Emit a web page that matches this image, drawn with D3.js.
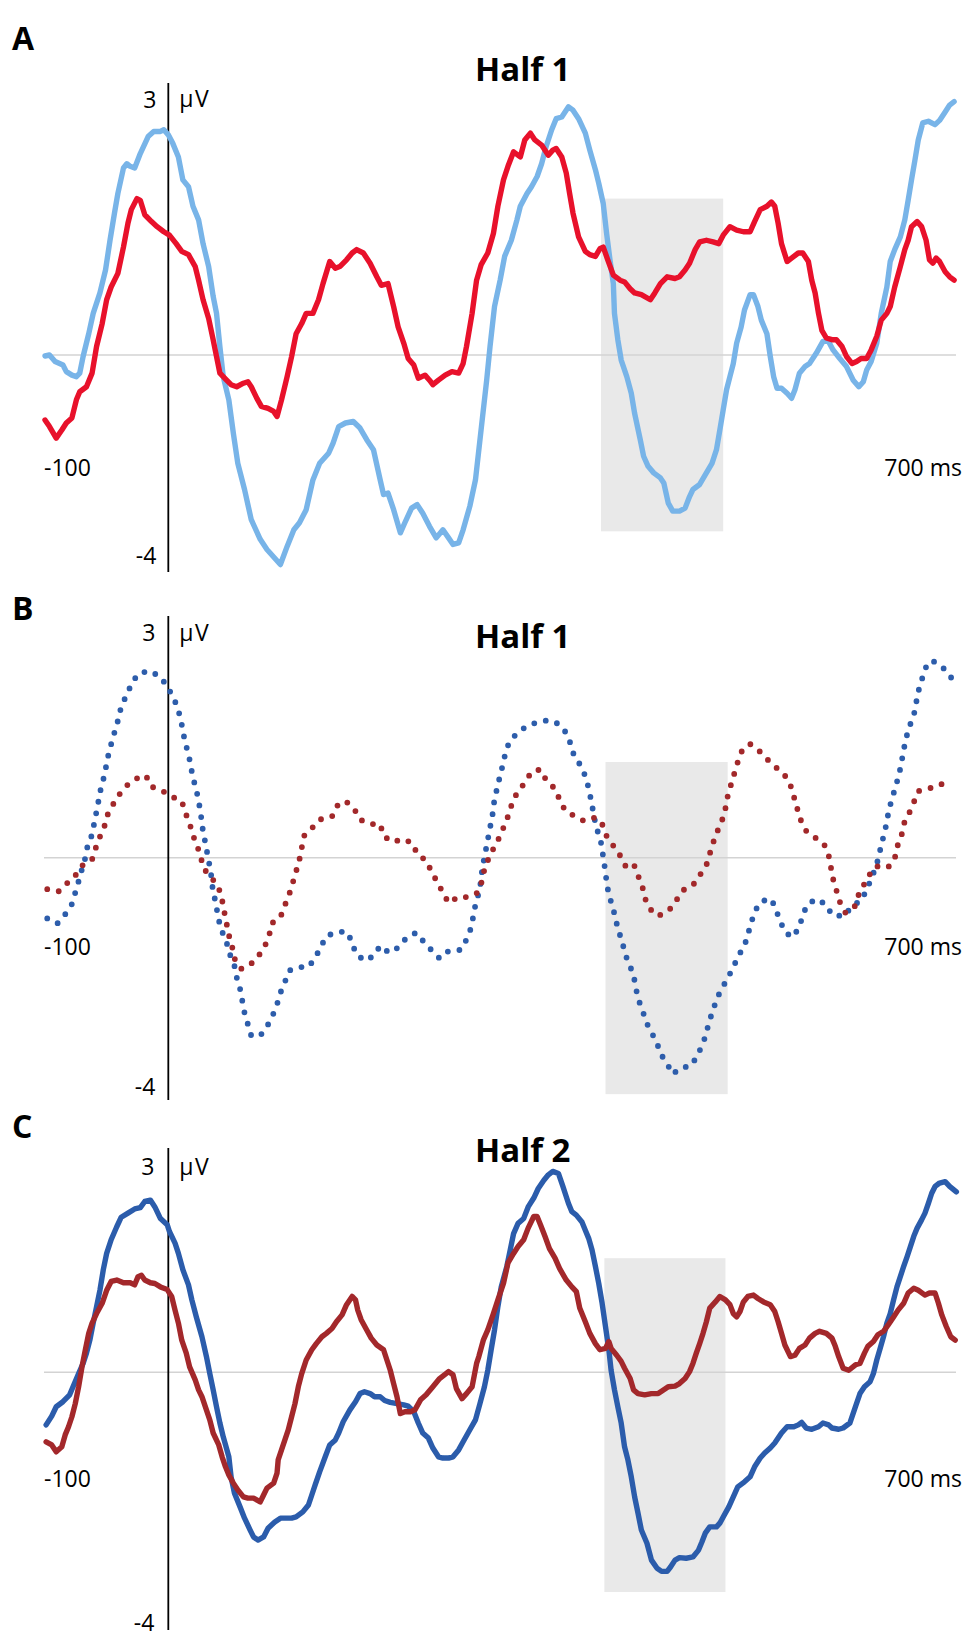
<!DOCTYPE html>
<html>
<head>
<meta charset="utf-8">
<script src="https://cdn.jsdelivr.net/npm/d3@7"></script>
<style>
  body { margin: 0; background: #fff; }
  svg { display: block; }
  text { font-family: "Open Sans", "DejaVu Sans", sans-serif; fill: #000; }
</style>
</head>
<body>
<svg id="chart" width="975" height="1642"></svg>
<script>
// ERP waveforms, [time ms, amplitude uV]

// panel A, half 1
var aLight = [[-110,-0.02],[-106,0],[-101,-0.13],[-97,-0.17],[-94,-0.20],[-91,-0.33],[-86,-0.40],[-82,-0.43],[-79,-0.36],[-76,-0.03],[-71,0.25],[-67,0.49],[-61,0.73],[-56,1.00],[-52,1.35],[-48,1.67],[-45,1.90],[-40,2.20],[-37,2.25],[-34,2.22],[-30,2.20],[-25,2.37],[-18,2.57],[-13,2.63],[-7,2.63],[-4,2.65],[0,2.59],[4,2.49],[9,2.33],[13,2.06],[18,1.98],[22,1.75],[27,1.59],[31,1.31],[36,1.04],[40,0.69],[43,0.49],[46,0.10],[49,-0.43],[54,-0.89],[58,-1.55],[62,-2.15],[68,-2.67],[74,-3.27],[82,-3.66],[88,-3.86],[100,-4.16],[106,-3.80],[112,-3.47],[117,-3.33],[123,-3.07],[129,-2.48],[135,-2.15],[143,-1.95],[147,-1.75],[152,-1.42],[158,-1.35],[165,-1.32],[171,-1.45],[177,-1.68],[183,-1.88],[189,-2.48],[192,-2.77],[196,-2.74],[201,-3.07],[207,-3.53],[211,-3.33],[217,-3.04],[222,-2.97],[227,-3.14],[233,-3.40],[239,-3.63],[245,-3.47],[250,-3.63],[254,-3.76],[259,-3.73],[263,-3.47],[269,-3.00],[274,-2.48],[279,-1.49],[284,-0.50],[287,0.10],[291,0.57],[296,0.88],[300,1.16],[306,1.35],[311,1.59],[314,1.75],[320,1.90],[324,1.98],[329,2.10],[333,2.25],[337,2.45],[342,2.65],[346,2.78],[351,2.80],[357,2.92],[361,2.88],[366,2.78],[372,2.61],[376,2.41],[381,2.18],[384,2.02],[388,1.78],[391,1.43],[394,1.12],[397,0.84],[398,0.49],[401,0.18],[404,-0.10],[409,-0.43],[413,-0.76],[416,-1.16],[421,-1.68],[424,-2.01],[428,-2.21],[433,-2.34],[439,-2.44],[442,-2.54],[446,-2.94],[450,-3.10],[456,-3.10],[461,-3.04],[465,-2.81],[468,-2.67],[474,-2.57],[480,-2.34],[485,-2.15],[489,-1.88],[492,-1.49],[495,-1.09],[498,-0.69],[501,-0.43],[504,-0.17],[507,0.14],[511,0.33],[514,0.53],[519,0.71],[522,0.71],[526,0.57],[529,0.41],[534,0.25],[537,-0.03],[540,-0.43],[543,-0.66],[547,-0.66],[552,-0.76],[556,-0.86],[559,-0.69],[563,-0.36],[568,-0.23],[572,-0.17],[578,0.02],[584,0.16],[589,0.16],[593,0.06],[599,-0.07],[605,-0.23],[611,-0.50],[616,-0.63],[620,-0.53],[623,-0.30],[627,-0.13],[632,0.14],[636,0.49],[641,0.80],[644,1.10],[648,1.24],[653,1.39],[657,1.59],[660,1.82],[663,2.06],[666,2.29],[669,2.53],[673,2.73],[678,2.75],[684,2.71],[688,2.76],[693,2.86],[697,2.94],[701,2.98]];

var aRed = [[-110,-1.29],[-106,-1.42],[-100,-1.65],[-95,-1.49],[-91,-1.35],[-86,-1.25],[-82,-0.89],[-79,-0.73],[-73,-0.63],[-68,-0.36],[-64,0.10],[-59,0.37],[-55,0.65],[-51,0.80],[-45,0.96],[-40,1.27],[-36,1.55],[-33,1.71],[-28,1.84],[-25,1.82],[-21,1.65],[-15,1.57],[-10,1.51],[-4,1.45],[1,1.41],[7,1.31],[12,1.22],[18,1.18],[24,1.04],[27,0.88],[31,0.65],[36,0.43],[40,0.18],[43,-0.03],[46,-0.36],[52,-0.50],[56,-0.59],[61,-0.63],[67,-0.56],[71,-0.53],[74,-0.63],[79,-0.86],[83,-1.02],[89,-1.06],[94,-1.12],[97,-1.22],[101,-0.89],[106,-0.43],[110,-0.03],[114,0.25],[119,0.37],[123,0.49],[129,0.49],[134,0.65],[138,0.84],[144,1.10],[149,1.02],[153,1.04],[159,1.12],[164,1.20],[168,1.24],[174,1.20],[180,1.08],[186,0.92],[190,0.82],[196,0.84],[201,0.57],[205,0.33],[210,0.14],[214,-0.07],[219,-0.20],[223,-0.46],[229,-0.40],[233,-0.50],[236,-0.59],[241,-0.50],[247,-0.40],[253,-0.33],[259,-0.36],[263,-0.17],[266,0.10],[271,0.49],[275,0.88],[279,1.06],[285,1.20],[290,1.43],[294,1.75],[299,2.06],[303,2.22],[308,2.39],[314,2.33],[318,2.53],[323,2.61],[327,2.53],[333,2.47],[339,2.35],[343,2.41],[346,2.43],[351,2.33],[355,2.14],[358,1.90],[361,1.67],[366,1.39],[372,1.22],[376,1.18],[381,1.16],[385,1.25],[388,1.27],[392,1.12],[397,0.94],[403,0.88],[407,0.86],[412,0.78],[416,0.73],[422,0.71],[430,0.65],[434,0.73],[439,0.84],[445,0.92],[452,0.90],[456,0.92],[461,1.00],[465,1.08],[470,1.24],[474,1.33],[480,1.35],[486,1.33],[491,1.31],[495,1.41],[501,1.51],[507,1.47],[513,1.45],[519,1.45],[523,1.57],[528,1.71],[534,1.75],[538,1.80],[541,1.75],[544,1.55],[547,1.31],[552,1.10],[556,1.14],[562,1.20],[566,1.20],[571,1.10],[574,0.88],[577,0.73],[580,0.49],[583,0.29],[587,0.20],[592,0.18],[596,0.18],[601,0.10],[605,-0.03],[610,-0.17],[614,-0.13],[618,-0.07],[623,-0.07],[627,0.06],[632,0.22],[636,0.41],[641,0.49],[644,0.57],[648,0.80],[653,1.04],[657,1.24],[660,1.35],[663,1.51],[668,1.57],[672,1.51],[676,1.35],[679,1.12],[682,1.08],[685,1.14],[688,1.10],[693,0.98],[697,0.92],[701,0.88]];

// panel B, half 1 (dotted)
var bBlue = [[-108,-1.06],[-99,-1.15],[-92,-0.99],[-86,-0.81],[-83,-0.61],[-80,-0.41],[-77,-0.20],[-74,0],[-72,0.16],[-68,0.31],[-66,0.47],[-64,0.62],[-62,0.78],[-60,0.94],[-57,1.10],[-55,1.26],[-53,1.41],[-50,1.57],[-47,1.73],[-44,1.88],[-42,2.03],[-37,2.18],[-33,2.32],[-27,2.46],[-17,2.50],[-7,2.42],[-1,2.29],[4,2.16],[8,2.02],[11,1.86],[13,1.70],[15,1.54],[18,1.39],[20,1.23],[22,1.07],[25,0.91],[27,0.76],[29,0.59],[30,0.44],[32,0.28],[34,0.12],[36,-0.05],[38,-0.26],[39,-0.47],[41,-0.67],[43,-0.87],[45,-1.09],[48,-1.29],[52,-1.48],[55,-1.69],[59,-1.89],[61,-2.09],[64,-2.29],[66,-2.50],[68,-2.71],[71,-2.91],[74,-3.11],[82,-3.11],[88,-2.95],[93,-2.76],[97,-2.56],[100,-2.36],[104,-2.17],[108,-1.97],[116,-1.91],[125,-1.91],[131,-1.75],[136,-1.56],[141,-1.37],[150,-1.30],[159,-1.29],[164,-1.47],[167,-1.67],[175,-1.80],[183,-1.72],[189,-1.54],[197,-1.66],[205,-1.57],[212,-1.41],[221,-1.31],[228,-1.47],[235,-1.62],[242,-1.76],[250,-1.63],[261,-1.61],[266,-1.43],[270,-1.23],[272,-1.03],[274,-0.82],[277,-0.61],[279,-0.40],[280,-0.20],[282,0.01],[284,0.16],[286,0.32],[288,0.48],[290,0.64],[291,0.80],[294,0.96],[296,1.11],[299,1.27],[301,1.43],[305,1.57],[313,1.69],[321,1.77],[331,1.82],[340,1.84],[348,1.79],[355,1.67],[359,1.52],[362,1.36],[368,1.23],[372,1.09],[375,0.93],[377,0.78],[379,0.62],[381,0.46],[384,0.30],[387,0.15],[388,-0.02],[390,-0.23],[391,-0.44],[393,-0.64],[396,-0.84],[399,-1.05],[401,-1.25],[405,-1.46],[407,-1.66],[411,-1.85],[415,-2.05],[417,-2.26],[419,-2.46],[423,-2.66],[426,-2.86],[431,-3.05],[436,-3.24],[439,-3.42],[445,-3.60],[450,-3.78],[457,-3.67],[466,-3.64],[472,-3.46],[476,-3.28],[480,-3.08],[482,-2.88],[486,-2.67],[489,-2.47],[494,-2.28],[499,-2.10],[504,-1.92],[508,-1.73],[514,-1.54],[517,-1.34],[520,-1.14],[523,-0.94],[529,-0.76],[538,-0.72],[542,-0.91],[546,-1.11],[550,-1.30],[557,-1.39],[563,-1.21],[566,-1.00],[570,-0.82],[578,-0.72],[587,-0.82],[592,-1.00],[603,-1.02],[610,-0.84],[618,-0.75],[623,-0.56],[627,-0.37],[631,-0.17],[634,0.02],[636,0.18],[639,0.33],[641,0.49],[643,0.65],[646,0.81],[649,0.96],[652,1.12],[654,1.27],[656,1.44],[658,1.59],[661,1.75],[665,1.90],[667,2.06],[669,2.22],[672,2.37],[675,2.53],[681,2.64],[690,2.56],[697,2.44],[703,2.30]];

var bRed = [[-108,-0.55],[-98,-0.59],[-90,-0.44],[-82,-0.29],[-76,-0.12],[-68,-0.03],[-65,0.12],[-61,0.28],[-57,0.42],[-54,0.58],[-49,0.72],[-43,0.86],[-36,0.98],[-27,1.07],[-20,1.10],[-15,0.95],[-6,0.90],[4,0.81],[12,0.76],[15,0.61],[19,0.46],[22,0.30],[26,0.15],[29,0],[32,-0.20],[39,-0.36],[45,-0.53],[48,-0.74],[50,-0.95],[52,-1.15],[54,-1.35],[57,-1.56],[59,-1.76],[65,-1.94],[73,-1.87],[80,-1.73],[86,-1.55],[90,-1.36],[92,-1.15],[100,-1.04],[104,-0.83],[108,-0.63],[111,-0.44],[114,-0.24],[117,-0.03],[119,0.13],[121,0.29],[129,0.41],[135,0.51],[146,0.55],[151,0.70],[158,0.76],[166,0.65],[171,0.51],[180,0.45],[189,0.45],[192,0.29],[200,0.21],[210,0.25],[218,0.19],[222,0.05],[230,-0.05],[235,-0.25],[240,-0.43],[245,-0.61],[250,-0.79],[259,-0.68],[267,-0.69],[276,-0.61],[280,-0.40],[282,-0.20],[286,0],[291,0.15],[296,0.29],[300,0.44],[304,0.59],[307,0.75],[312,0.89],[318,1.00],[324,1.15],[332,1.18],[337,1.04],[345,0.92],[349,0.78],[354,0.63],[362,0.56],[371,0.49],[381,0.54],[387,0.45],[391,0.29],[397,0.16],[403,0.03],[408,-0.15],[415,-0.10],[419,-0.31],[423,-0.51],[425,-0.70],[430,-0.90],[437,-1.02],[447,-0.91],[453,-0.75],[459,-0.57],[468,-0.48],[474,-0.31],[480,-0.13],[483,0.05],[486,0.20],[490,0.36],[494,0.50],[497,0.66],[499,0.82],[502,0.98],[505,1.13],[508,1.28],[512,1.44],[519,1.52],[527,1.43],[534,1.32],[542,1.21],[550,1.10],[555,0.97],[558,0.82],[561,0.66],[564,0.51],[569,0.36],[577,0.27],[585,0.18],[589,0.04],[591,-0.16],[593,-0.37],[596,-0.57],[599,-0.77],[604,-0.96],[612,-0.87],[615,-0.68],[620,-0.49],[625,-0.31],[631,-0.15],[642,-0.17],[648,-0.02],[650,0.14],[654,0.29],[656,0.45],[661,0.60],[665,0.74],[669,0.89],[676,0.92],[686,0.95],[695,1.03]];

// panel C, half 2
var cBlue = [[-109,-0.84],[-104,-0.70],[-100,-0.55],[-94,-0.47],[-88,-0.36],[-85,-0.23],[-80,-0.02],[-76,0.13],[-73,0.28],[-70,0.47],[-67,0.72],[-64,0.96],[-61,1.20],[-58,1.50],[-55,1.74],[-51,1.94],[-46,2.13],[-42,2.27],[-36,2.33],[-30,2.39],[-25,2.41],[-21,2.50],[-16,2.52],[-12,2.42],[-7,2.25],[-1,2.16],[1,2.06],[6,1.89],[9,1.74],[13,1.50],[18,1.28],[21,1.06],[25,0.81],[30,0.52],[34,0.23],[37,-0.02],[40,-0.28],[43,-0.55],[46,-0.81],[49,-1.03],[54,-1.35],[56,-1.67],[59,-1.93],[64,-2.15],[68,-2.33],[73,-2.52],[76,-2.63],[80,-2.68],[85,-2.63],[89,-2.49],[95,-2.39],[100,-2.33],[106,-2.33],[110,-2.33],[114,-2.31],[120,-2.23],[125,-2.12],[128,-1.96],[131,-1.80],[135,-1.59],[140,-1.35],[144,-1.16],[149,-1.08],[152,-0.97],[156,-0.79],[162,-0.60],[167,-0.47],[171,-0.34],[175,-0.31],[180,-0.34],[184,-0.39],[189,-0.39],[193,-0.45],[198,-0.48],[204,-0.50],[210,-0.52],[214,-0.54],[219,-0.63],[223,-0.81],[227,-0.97],[232,-1.05],[236,-1.21],[241,-1.35],[245,-1.37],[250,-1.37],[254,-1.35],[259,-1.24],[263,-1.11],[268,-0.95],[274,-0.76],[278,-0.50],[282,-0.23],[285,0.03],[288,0.33],[291,0.62],[294,0.96],[297,1.25],[302,1.55],[305,1.79],[308,2.03],[312,2.18],[317,2.25],[321,2.42],[326,2.55],[330,2.69],[335,2.81],[339,2.89],[343,2.94],[348,2.91],[352,2.72],[357,2.47],[360,2.35],[364,2.30],[369,2.20],[372,2.08],[375,1.96],[378,1.79],[381,1.55],[384,1.30],[387,1.01],[390,0.67],[393,0.33],[395,0.03],[398,-0.28],[401,-0.55],[404,-0.81],[407,-1.19],[410,-1.40],[413,-1.67],[416,-1.99],[419,-2.25],[422,-2.52],[427,-2.73],[431,-3.00],[436,-3.13],[440,-3.18],[445,-3.18],[448,-3.11],[452,-3.00],[456,-2.96],[462,-2.97],[468,-2.95],[473,-2.84],[476,-2.71],[479,-2.57],[483,-2.47],[489,-2.47],[492,-2.41],[495,-2.31],[500,-2.15],[504,-1.99],[508,-1.83],[514,-1.75],[519,-1.67],[523,-1.51],[528,-1.37],[532,-1.29],[537,-1.21],[541,-1.13],[547,-0.97],[552,-0.87],[558,-0.87],[562,-0.84],[565,-0.80],[569,-0.89],[574,-0.91],[580,-0.87],[584,-0.81],[589,-0.84],[592,-0.89],[598,-0.91],[602,-0.89],[608,-0.81],[613,-0.55],[617,-0.34],[621,-0.23],[626,-0.15],[629,-0.02],[632,0.18],[635,0.35],[638,0.52],[641,0.72],[644,0.86],[647,1.06],[650,1.25],[653,1.40],[656,1.55],[659,1.69],[662,1.84],[665,1.99],[668,2.11],[672,2.23],[675,2.33],[678,2.47],[681,2.62],[684,2.72],[688,2.77],[693,2.79],[697,2.72],[703,2.64]];

var cRed = [[-109,-1.11],[-104,-1.16],[-100,-1.27],[-95,-1.19],[-92,-1.00],[-89,-0.87],[-86,-0.71],[-83,-0.50],[-80,-0.23],[-77,0.08],[-74,0.33],[-71,0.57],[-68,0.72],[-64,0.86],[-59,1.01],[-55,1.20],[-51,1.33],[-46,1.35],[-40,1.31],[-34,1.31],[-30,1.28],[-27,1.40],[-24,1.42],[-21,1.35],[-16,1.31],[-12,1.30],[-7,1.25],[-1,1.21],[3,1.11],[6,0.91],[9,0.72],[12,0.47],[16,0.28],[19,0.08],[24,-0.12],[27,-0.28],[30,-0.39],[33,-0.55],[37,-0.76],[40,-0.97],[45,-1.16],[48,-1.35],[51,-1.51],[54,-1.64],[58,-1.77],[62,-1.88],[67,-1.99],[71,-2.01],[76,-2.01],[82,-2.07],[85,-1.96],[88,-1.85],[94,-1.77],[97,-1.61],[98,-1.40],[101,-1.24],[104,-1.08],[107,-0.92],[110,-0.71],[113,-0.50],[116,-0.23],[119,-0.02],[123,0.18],[128,0.33],[132,0.42],[137,0.52],[141,0.57],[146,0.64],[150,0.74],[155,0.84],[159,0.99],[164,1.11],[167,1.06],[169,0.91],[172,0.77],[177,0.62],[181,0.50],[186,0.40],[192,0.33],[195,0.18],[198,0.03],[201,-0.18],[204,-0.39],[207,-0.66],[211,-0.63],[216,-0.63],[220,-0.60],[225,-0.44],[230,-0.36],[236,-0.23],[242,-0.10],[250,0.01],[254,-0.04],[257,-0.26],[262,-0.42],[266,-0.34],[271,-0.23],[275,0.13],[277,0.23],[281,0.47],[285,0.62],[290,0.86],[294,1.06],[299,1.30],[303,1.60],[308,1.74],[312,1.84],[317,1.94],[321,2.11],[326,2.28],[329,2.28],[332,2.16],[336,1.99],[340,1.81],[345,1.67],[349,1.52],[355,1.35],[360,1.25],[364,1.18],[367,0.94],[372,0.74],[376,0.57],[381,0.42],[385,0.33],[390,0.35],[393,0.45],[395,0.35],[400,0.25],[404,0.16],[407,0.06],[412,-0.10],[415,-0.28],[419,-0.34],[425,-0.36],[431,-0.34],[437,-0.34],[442,-0.28],[446,-0.23],[452,-0.22],[456,-0.18],[461,-0.10],[465,0.01],[468,0.13],[471,0.28],[474,0.42],[477,0.57],[480,0.74],[483,0.94],[488,1.03],[492,1.11],[497,1.06],[501,0.99],[504,0.86],[507,0.81],[510,0.89],[513,1.03],[517,1.11],[522,1.13],[526,1.08],[531,1.03],[537,0.99],[541,0.89],[544,0.74],[547,0.57],[550,0.40],[555,0.23],[559,0.25],[563,0.35],[568,0.40],[572,0.50],[577,0.57],[581,0.60],[587,0.57],[592,0.50],[595,0.38],[598,0.23],[602,0.06],[607,0.03],[613,0.11],[617,0.13],[621,0.28],[624,0.38],[629,0.45],[633,0.55],[638,0.60],[642,0.69],[647,0.81],[651,0.91],[656,1.01],[660,1.16],[665,1.23],[669,1.20],[675,1.13],[679,1.16],[684,1.16],[687,1.01],[690,0.84],[694,0.67],[698,0.52],[702,0.47]];

// shaded analysis windows per panel: [start ms, end ms] and [low uV, high uV]
var windowTimes = [[386, 495], [390, 499], [389, 497]];
var windowLevels = [[-3.50, 1.84], [-4.13, 1.28], [-3.51, 1.67]];

var panelLetters = ['A', 'B', 'C'];
var panelTitles = ['Half 1', 'Half 1', 'Half 2'];
var yTicks = [3, -4];
var xEndLabels = ['-100', '700 ms'];
var timeSpan = [-110, 700];

var svg = d3.select('#chart');

var x = d3.scaleLinear().domain(timeSpan).range([45, 953]);

// layout of each panel (pixels); the y scales are piecewise so 0 sits on the baseline
var panels = [
  { axisTop: 83, axisBottom: 572, yRange: [556.5, 355, 100], letterY: 50, titleY: 81,
    labelY: 476, pad: 12,
    series: [ { data: aLight, color: '#78b4e8', dotted: false },
              { data: aRed, color: '#e8112b', dotted: false } ] },
  { axisTop: 616, axisBottom: 1100, yRange: [1086.7, 857.7, 633.4], letterY: 620, titleY: 648,
    labelY: 955, pad: 13,
    series: [ { data: bBlue, color: '#2d5dab', dotted: true },
              { data: bRed, color: '#a2282a', dotted: true } ] },
  { axisTop: 1148, axisBottom: 1630, yRange: [1622.7, 1372.3, 1167.3], letterY: 1138, titleY: 1162,
    labelY: 1487, pad: 14,
    series: [ { data: cBlue, color: '#2b5cab', dotted: false },
              { data: cRed, color: '#a3282b', dotted: false } ] }
];

panels.forEach(function (p, i) {
  var y = d3.scaleLinear().domain([-4, 0, 3]).range(p.yRange);
  var g = svg.append('g').attr('class', 'panel panel-' + panelLetters[i]);

  // gray window
  g.append('rect')
    .attr('x', x(windowTimes[i][0]))
    .attr('y', y(windowLevels[i][1]))
    .attr('width', x(windowTimes[i][1]) - x(windowTimes[i][0]))
    .attr('height', y(windowLevels[i][0]) - y(windowLevels[i][1]))
    .attr('fill', '#e9e9e9');

  // zero line
  g.append('line')
    .attr('x1', x(timeSpan[0]) - 1).attr('x2', x(timeSpan[1]) + 3)
    .attr('y1', y(0)).attr('y2', y(0))
    .attr('stroke', '#d3d3d3').attr('stroke-width', 1.6);

  // vertical axis at stimulus onset
  g.append('line')
    .attr('x1', x(0)).attr('x2', x(0))
    .attr('y1', p.axisTop).attr('y2', p.axisBottom)
    .attr('stroke', '#000').attr('stroke-width', 1.8);

  var yAxis = d3.axisLeft(y)
    .tickValues(yTicks)
    .tickSize(0)
    .tickPadding(p.pad)
    .tickFormat(function (d) { return String(d); });
  var ax = g.append('g')
    .attr('transform', 'translate(' + x(0) + ',0)')
    .call(yAxis);
  ax.select('.domain').remove();
  ax.selectAll('text')
    .attr('font-size', 23)
    .attr('font-family', '"Open Sans", sans-serif')
    .attr('fill', '#000');

  g.append('text')
    .attr('x', x(0) + 11).attr('y', y(3))
    .attr('dy', '0.32em')
    .attr('font-size', 23)
    .attr('letter-spacing', 1.5)
    .text('\u03bcV');

  g.append('text')
    .attr('x', x(timeSpan[0]) - 1).attr('y', p.labelY)
    .attr('font-size', 23)
    .text(xEndLabels[0]);
  g.append('text')
    .attr('x', x(timeSpan[1]) + 9).attr('y', p.labelY)
    .attr('text-anchor', 'end')
    .attr('font-size', 23)
    .text(xEndLabels[1]);

  g.append('text')
    .attr('x', 12).attr('y', p.letterY)
    .attr('font-size', 32).attr('font-weight', 700)
    .text(panelLetters[i]);

  g.append('text')
    .attr('x', 475).attr('y', p.titleY)
    .attr('font-size', 33).attr('font-weight', 700)
    .text(panelTitles[i]);

  var line = d3.line()
    .x(function (d) { return x(d[0]); })
    .y(function (d) { return y(d[1]); })
    .curve(d3.curveLinear);

  p.series.forEach(function (s) {
    var path = g.append('path')
      .datum(s.data)
      .attr('d', line)
      .attr('fill', 'none')
      .attr('stroke', s.color)
      .attr('stroke-linejoin', 'round')
      .attr('stroke-linecap', 'round');
    if (s.dotted) {
      path.attr('stroke-width', 5.8).attr('stroke-dasharray', '0 11.8');
    } else {
      path.attr('stroke-width', 5.4);
    }
  });
});
</script>
</body>
</html>
